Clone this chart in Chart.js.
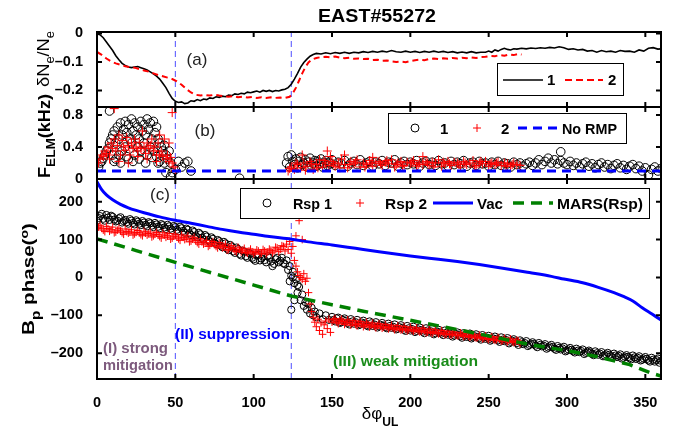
<!DOCTYPE html>
<html>
<head>
<meta charset="utf-8">
<script src="https://cdn.jsdelivr.net/npm/chart.js@4.4.1/dist/chart.umd.min.js"></script>
<style>
  html, body { margin: 0; padding: 0; background: #fff; }
  #wrap { position: relative; width: 675px; height: 429px; overflow: hidden; }
  canvas { position: absolute; left: 0; }
  #overlay { position: absolute; left: 0; top: 0; }
</style>
</head>
<body>
<div id="wrap">
  <canvas id="chartA" width="675" height="95" style="top:22px"></canvas>
  <canvas id="chartB" width="675" height="92" style="top:97px"></canvas>
  <canvas id="chartC" width="675" height="255" style="top:169px"></canvas>
  <svg id="overlay" width="675" height="429" font-family="Liberation Sans, Arial, Helvetica, sans-serif">
    <text x="377" y="22" text-anchor="middle" font-size="18" font-weight="bold" textLength="118" lengthAdjust="spacingAndGlyphs">EAST#55272</text>
    <text x="197" y="65" text-anchor="middle" font-size="17" fill="#222">(a)</text>
    <text x="205" y="136" text-anchor="middle" font-size="17" fill="#222">(b)</text>
    <text x="160" y="200" text-anchor="middle" font-size="17" fill="#222">(c)</text>

    <text transform="translate(49,59) rotate(-90)" text-anchor="middle" font-size="17" textLength="56" lengthAdjust="spacingAndGlyphs">δN<tspan font-size="12" dy="5">e</tspan><tspan dy="-5">/N</tspan><tspan font-size="12" dy="5">e</tspan></text>
    <text transform="translate(50,136) rotate(-90)" text-anchor="middle" font-size="16" font-weight="bold" textLength="84" lengthAdjust="spacingAndGlyphs">F<tspan font-size="12" dy="5">ELM</tspan><tspan dy="-5">(kHz)</tspan></text>
    <text transform="translate(34,279) rotate(-90)" text-anchor="middle" font-size="16" font-weight="bold" textLength="112" lengthAdjust="spacingAndGlyphs">B<tspan font-size="12" dy="6">p</tspan><tspan dy="-6"> phase(</tspan><tspan font-size="11" dy="-6">o</tspan><tspan dy="6">)</tspan></text>
    <text x="380" y="419" text-anchor="middle" font-size="17">δφ<tspan font-size="12" font-weight="bold" dy="7">UL</tspan></text>

    <text x="103" y="353" font-size="15" font-weight="bold" fill="#7d5a7d" textLength="65" lengthAdjust="spacingAndGlyphs">(I) strong</text>
    <text x="103" y="370" font-size="15" font-weight="bold" fill="#7d5a7d" textLength="70" lengthAdjust="spacingAndGlyphs">mitigation</text>
    <text x="175" y="339" font-size="15" font-weight="bold" fill="#0000ff" textLength="115" lengthAdjust="spacingAndGlyphs">(II) suppression</text>
    <text x="333" y="366" font-size="15" font-weight="bold" fill="#1a8c1a" textLength="145" lengthAdjust="spacingAndGlyphs">(III) weak mitigation</text>

    <g font-size="15" font-weight="bold">
      <rect x="497.5" y="63.5" width="126" height="32" fill="#fff" stroke="#000" stroke-width="1"/>
      <line x1="503" y1="80" x2="543" y2="80" stroke="#000" stroke-width="1.5"/>
      <text x="547" y="85">1</text>
      <line x1="565" y1="80" x2="603" y2="80" stroke="#ff0000" stroke-width="2" stroke-dasharray="7,4"/>
      <text x="608" y="85">2</text>

      <rect x="388.5" y="113.5" width="238" height="30" fill="#fff" stroke="#000" stroke-width="1"/>
      <circle cx="415" cy="128" r="4" fill="none" stroke="#000" stroke-width="1"/>
      <text x="440" y="133.5">1</text>
      <path d="M473 128 H481 M477 124 V132" stroke="#ff0000" stroke-width="1"/>
      <text x="501" y="133.5">2</text>
      <line x1="518" y1="128" x2="560" y2="128" stroke="#0000ff" stroke-width="3" stroke-dasharray="9,6"/>
      <text x="562" y="133.5" textLength="55" lengthAdjust="spacingAndGlyphs">No RMP</text>

      <rect x="240.5" y="188.5" width="409" height="30" fill="#fff" stroke="#000" stroke-width="1"/>
      <circle cx="267" cy="203" r="4" fill="none" stroke="#000" stroke-width="1"/>
      <text x="293" y="208.5" textLength="39" lengthAdjust="spacingAndGlyphs">Rsp 1</text>
      <path d="M356 203 H364 M360 199 V207" stroke="#ff0000" stroke-width="1"/>
      <text x="385" y="208.5" textLength="42" lengthAdjust="spacingAndGlyphs">Rsp 2</text>
      <line x1="433" y1="203" x2="473" y2="203" stroke="#0000ff" stroke-width="3"/>
      <text x="477" y="208.5" textLength="26" lengthAdjust="spacingAndGlyphs">Vac</text>
      <line x1="513" y1="203" x2="553" y2="203" stroke="#008000" stroke-width="3.5" stroke-dasharray="11,7"/>
      <text x="557" y="208.5" textLength="86" lengthAdjust="spacingAndGlyphs">MARS(Rsp)</text>
    </g>
  </svg>
</div>
<script>
// shared x axis
const xTicks = [0, 50, 100, 150, 200, 250, 300, 350];
const regionBounds = [50, 124];

// (a) density change
const dneTicks = [-0.2, -0.1, 0];
const dne1 = [[0,-0.002],[2,-0.005],[4,-0.015],[6,-0.03],[8,-0.045],[10,-0.06],[12,-0.078],[14,-0.092],[16,-0.105],[18,-0.112],[20,-0.118],[22,-0.12],[24,-0.118],[26,-0.116],[28,-0.12],[30,-0.124],[32,-0.128],[34,-0.135],[36,-0.142],[38,-0.15],[40,-0.16],[42,-0.175],[44,-0.19],[46,-0.21],[48,-0.228],[50,-0.238],[52,-0.242],[54,-0.24],[56,-0.246],[58,-0.244],[60,-0.236],[62,-0.238],[64,-0.232],[66,-0.236],[68,-0.23],[70,-0.232],[72,-0.226],[74,-0.228],[76,-0.222],[78,-0.224],[80,-0.22],[82,-0.222],[84,-0.216],[86,-0.218],[88,-0.212],[90,-0.214],[92,-0.21],[94,-0.212],[96,-0.206],[98,-0.208],[100,-0.205],[102,-0.202],[104,-0.206],[106,-0.2],[108,-0.203],[110,-0.2],[112,-0.204],[114,-0.2],[116,-0.202],[118,-0.198],[120,-0.196],[122,-0.19],[124,-0.178],[126,-0.16],[128,-0.14],[130,-0.118],[132,-0.102],[134,-0.09],[136,-0.08],[138,-0.074],[140,-0.07],[143,-0.072],[146,-0.068],[149,-0.071],[152,-0.067],[155,-0.07],[158,-0.066],[161,-0.07],[164,-0.066],[167,-0.068],[170,-0.064],[173,-0.067],[176,-0.063],[179,-0.066],[182,-0.062],[185,-0.065],[188,-0.06],[191,-0.064],[194,-0.066],[197,-0.062],[200,-0.066],[203,-0.063],[206,-0.067],[209,-0.063],[212,-0.066],[215,-0.062],[218,-0.066],[221,-0.063],[224,-0.067],[227,-0.064],[230,-0.068],[233,-0.065],[236,-0.068],[239,-0.064],[242,-0.068],[245,-0.066],[248,-0.066],[250,-0.062],[252,-0.066],[254,-0.058],[256,-0.062],[258,-0.056],[260,-0.052],[262,-0.056],[264,-0.058],[266,-0.054],[268,-0.055],[271,-0.052],[274,-0.054],[277,-0.051],[280,-0.053],[283,-0.05],[286,-0.052],[289,-0.049],[292,-0.051],[295,-0.047],[298,-0.05],[301,-0.056],[304,-0.054],[307,-0.058],[310,-0.056],[313,-0.062],[316,-0.06],[319,-0.066],[322,-0.06],[325,-0.064],[328,-0.062],[331,-0.066],[334,-0.06],[337,-0.063],[340,-0.062],[343,-0.066],[346,-0.058],[349,-0.062],[352,-0.052],[355,-0.05],[358,-0.055],[360,-0.054]];
const dne2 = [[0,-0.065],[3,-0.075],[6,-0.088],[9,-0.098],[12,-0.105],[15,-0.11],[18,-0.115],[21,-0.118],[24,-0.12],[27,-0.125],[30,-0.13],[33,-0.134],[36,-0.14],[39,-0.146],[42,-0.15],[45,-0.155],[48,-0.16],[51,-0.168],[54,-0.18],[57,-0.195],[60,-0.207],[63,-0.215],[66,-0.218],[69,-0.216],[72,-0.218],[75,-0.215],[78,-0.218],[81,-0.22],[84,-0.222],[87,-0.22],[90,-0.224],[93,-0.222],[96,-0.225],[99,-0.223],[102,-0.226],[105,-0.224],[108,-0.226],[111,-0.224],[114,-0.226],[117,-0.225],[120,-0.226],[123,-0.222],[125,-0.21],[127,-0.19],[129,-0.165],[131,-0.14],[133,-0.118],[135,-0.102],[137,-0.092],[140,-0.086],[143,-0.083],[146,-0.082],[149,-0.084],[152,-0.081],[155,-0.085],[158,-0.087],[161,-0.085],[164,-0.089],[167,-0.088],[170,-0.09],[173,-0.089],[176,-0.093],[179,-0.092],[182,-0.096],[185,-0.095],[188,-0.098],[191,-0.1],[194,-0.099],[197,-0.101],[200,-0.097],[203,-0.094],[206,-0.092],[209,-0.094],[212,-0.09],[215,-0.088],[218,-0.09],[221,-0.087],[224,-0.089],[227,-0.086],[230,-0.088],[233,-0.085],[236,-0.087],[239,-0.084],[242,-0.086],[245,-0.083],[248,-0.082],[251,-0.079],[254,-0.08],[257,-0.076],[260,-0.078],[263,-0.074],[266,-0.076],[269,-0.072],[271,-0.074]];

// (b) ELM frequency
const felmTicks = [0, 0.2, 0.4, 0.6, 0.8];
const felm1 = [[1,.15],[2,.2],[3,.22],[4,.26],[5,.3],[6,.35],[7,.38],[8,.45],[8,.85],[9,.5],[10,.55],[10,.3],[11,.6],[11,.22],[12,.45],[12,.25],[13,.65],[14,.5],[14,.3],[15,.7],[15,.2],[16,.55],[16,.35],[17,.62],[18,.72],[18,.4],[19,.58],[19,.28],[20,.68],[20,.25],[21,.5],[22,.75],[22,.45],[23,.6],[23,.22],[24,.7],[24,.3],[25,.55],[26,.65],[26,.4],[27,.5],[27,.25],[28,.72],[28,.35],[29,.6],[30,.68],[30,.45],[31,.55],[31,.2],[32,.75],[32,.3],[33,.62],[34,.7],[34,.4],[35,.5],[35,.27],[36,.72],[36,.35],[37,.58],[38,.65],[38,.28],[39,.5],[39,.2],[40,.45],[40,.22],[41,.4],[42,.35],[43,.42],[43,.2],[44,.3],[44,.08],[45,.25],[46,.35],[47,.2],[47,.03],[48,.08],[50,.12],[52,.22],[54,.15],[56,.2],[58,.22],[60,.1],[91,.01],
  [121,.2],[122,.28],[123,.15],[124,.3],[125,.22],[126,.18],[127,.25],[128,.14],[129,.22],[130,.27],[131,.18],[132,.2],[133,.24],[134,.15],[135,.21],[136,.26],[137,.17],[138,.2],[139,.23],[140,.16],[141,.22],[142,.19],[143,.25],[144,.15],[145,.2],[146,.23],[147,.17],[148,.21],[149,.19],[150,.24],[152,.17],[154,.21],[156,.19],[158,.23],[160,.16],[162,.2],[164,.22],[166,.18],[168,.24],[170,.17],[172,.2],[174,.22],[176,.16],[178,.21],[180,.19],[182,.23],[184,.17],[186,.21],[188,.2],[190,.24],[192,.16],[194,.2],[196,.22],[198,.18],[200,.21],[202,.19],[204,.23],[206,.16],[208,.2],[210,.22],[212,.18],[214,.21],[216,.17],[218,.23],[220,.19],[222,.2],[224,.16],[226,.22],[228,.18],[230,.21],[232,.19],[234,.23],[236,.16],[238,.2],[240,.21],[242,.17],[244,.22],[246,.19],[248,.2],[250,.16],[252,.21],[254,.18],[256,.22],[258,.17],[260,.2],[262,.19],[264,.15],[266,.21],[268,.18],[270,.2],[272,.16],[274,.19],[276,.21],[278,.17],[280,.2],[282,.24],[284,.18],[286,.22],[288,.26],[290,.2],[292,.24],[294,.19],[296,.34],[296,.23],[298,.2],[300,.18],[302,.22],[304,.17],[306,.2],[308,.15],[310,.19],[312,.21],[314,.16],[316,.19],[318,.14],[320,.18],[322,.2],[324,.15],[326,.18],[328,.13],[330,.17],[332,.19],[334,.14],[336,.17],[338,.12],[340,.16],[342,.18],[344,.13],[346,.16],[348,.1],[350,.14],[352,.05],[354,.12],[356,.15],[358,.1],[360,.13]];
const felm2 = [[1,.2],[2,.25],[3,.3],[4,.28],[5,.35],[6,.32],[7,.4],[8,.3],[8,.25],[9,.45],[10,.38],[11,.88],[11,.5],[12,.35],[13,.42],[14,.55],[14,.22],[15,.3],[16,.48],[17,.4],[18,.36],[19,.52],[20,.42],[20,.2],[21,.3],[22,.45],[23,.38],[24,.5],[25,.4],[26,.35],[26,.28],[27,.46],[28,.38],[29,.6],[30,.4],[31,.32],[32,.45],[32,.25],[33,.38],[34,.42],[35,.5],[36,.35],[37,.4],[38,.3],[38,.22],[39,.45],[40,.3],[40,.55],[41,.35],[42,.28],[43,.5],[44,.25],[45,.3],[46,.22],[46,.45],[47,.27],[48,.83],[48,.2],[49,.15],[50,.1],
  [122,.1],[124,.15],[126,.12],[128,.18],[130,.14],[131,.3],[132,.2],[134,.16],[136,.22],[138,.12],[140,.18],[142,.24],[144,.15],[146,.2],[147,.35],[148,.17],[149,.28],[150,.22],[152,.16],[154,.2],[156,.25],[158,.3],[158,.18],[160,.14],[162,.22],[164,.19],[166,.24],[168,.15],[170,.2],[172,.18],[174,.23],[176,.27],[176,.16],[178,.2],[180,.22],[182,.17],[184,.21],[186,.19],[188,.24],[190,.15],[192,.2],[194,.22],[196,.17],[198,.21],[200,.19],[202,.23],[204,.16],[206,.2],[208,.28],[208,.18],[210,.22],[212,.17],[214,.21],[216,.2],[218,.24],[220,.16],[222,.19],[224,.22],[226,.17],[228,.21],[230,.2],[232,.15],[234,.22],[236,.18],[238,.2],[240,.23],[242,.17],[244,.2],[246,.19],[248,.22],[250,.16],[252,.2],[254,.18],[256,.21],[258,.17],[260,.2],[262,.19],[264,.16],[266,.2],[268,.18],[270,.17],
  [123,.13],[127,.2],[133,.11],[137,.19],[141,.14],[145,.23],[151,.19],[155,.14],[161,.18],[165,.21],[171,.15],[175,.2],[181,.19],[185,.23],[191,.18],[195,.16],[201,.21],[205,.18],[211,.2],[215,.15],[221,.21],[225,.19],[231,.18],[235,.2],[241,.15],[245,.22],[251,.19],[255,.2],[261,.16],[265,.18]];
const noRmp = [[0,0.1],[360,0.1]];

// (c) Bp phase
const phaseTicks = [-200, -100, 0, 100, 200];
const rsp1 = [[0,150],[2,162],[4,155],[6,165],[8,152],[10,160],[12,148],[14,156],[16,145],[18,152],[20,142],[22,150],[24,140],[26,147],[28,138],[30,145],[32,135],[34,143],[36,133],[38,140],[40,130],[42,138],[44,128],[46,135],[48,125],[50,133],[52,122],[54,130],[56,118],[58,126],[60,112],[62,120],[64,106],[66,114],[68,100],[70,108],[72,95],[74,102],[76,88],[78,96],[80,80],[82,90],[84,72],[86,82],[88,65],[90,75],[92,58],[94,68],[96,52],[98,62],[100,48],[102,58],[104,45],[106,55],[108,40],[110,52],[112,30],[114,48],[116,40],[118,52],[120,35],[121,45],[122,20],[123,30],[123,-10],[124,5],[124,-85],[125,15],[125,0],[126,-15],[126,-60],[127,-5],[128,-40],[128,-20],[129,-25],[130,-60],[131,-45],[132,-75],[133,-65],[134,-85],[135,-70],[136,-95],[137,-80],[138,-100],[139,-90],[140,-105],[142,-95],[144,-110],[146,-100],[148,-112],[150,-104],
  [152,-116],[154,-106],[156,-118],[158,-108],[160,-120],[162,-110],[164,-122],[166,-112],[168,-124],[170,-114],[172,-126],[174,-116],[176,-128],[178,-118],[180,-129],[182,-120],[184,-131],[186,-122],[188,-133],[190,-124],[192,-135],[194,-126],[196,-138],[198,-128],[200,-140],[202,-130],[204,-141],[206,-132],[208,-143],[210,-134],[212,-145],[214,-136],[216,-147],[218,-138],[220,-148],[222,-140],[224,-151],[226,-142],[228,-153],[230,-145],[232,-155],[234,-147],[236,-157],[238,-148],[240,-158],[242,-150],[244,-160],[246,-152],[248,-162],[250,-154],[252,-164],[254,-156],[256,-166],[258,-158],[260,-168],[262,-160],[264,-170],[266,-163],[268,-173],[270,-166],[272,-176],[274,-168],[276,-178],[278,-171],[280,-180],[282,-173],[284,-182],[286,-176],[288,-185],[290,-178],[292,-188],[294,-181],[296,-190],[298,-183],[300,-193],[302,-186],[304,-195],[306,-188],[308,-197],[310,-190],[312,-199],[314,-193],[316,-202],[318,-195],[320,-204],[322,-197],[324,-206],[326,-199],[328,-208],[330,-201],[332,-210],[334,-203],[336,-212],[338,-205],[340,-213],[342,-206],[344,-215],[346,-208],[348,-217],[350,-210],[352,-219],[354,-212],[356,-222],[358,-214],[360,-220],
  [1,157],[3,168],[5,150],[7,158],[9,163],[11,153],[13,150],[15,159],[17,149],[19,146],[21,154],[23,144],[25,151],[27,142],[29,149],[31,139],[33,146],[35,137],[37,144],[39,134],[41,141],[43,132],[45,139],[47,129],[49,136],[51,126],[53,134],[55,123],[57,129],[59,117],[61,124],[63,111],[65,118],[67,105],[69,112],[71,99],[73,106],[75,92],[77,99],[79,84],[81,94],[83,76],[85,86],[87,69],[89,79],[91,62],[93,71],[95,56],[97,65],[99,52],[101,44],[103,60],[105,50],[107,46],[109,56],[111,42],[113,36],[115,52],[117,44],[119,38],
  [151,-112],[153,-108],[155,-120],[157,-112],[159,-114],[161,-124],[163,-116],[165,-118],[167,-126],[169,-119],[171,-121],[173,-129],[175,-121],[177,-124],[179,-132],[181,-125],[183,-127],[185,-134],[187,-128],[189,-130],[191,-137],[193,-131],[195,-133],[197,-141],[199,-134],[201,-136],[203,-144],[205,-137],[207,-139],[209,-147],[211,-140],[213,-142],[215,-150],[217,-143],[219,-145],[221,-152],[223,-146],[225,-148],[227,-156],[229,-149],[231,-151],[233,-159],[235,-152],[237,-154],[239,-161],[241,-155],[243,-157],[245,-164],[247,-158],[249,-159],[251,-167],[253,-161],[255,-162],[257,-170],[259,-164],[261,-165],[263,-174],[265,-167],[267,-169],[269,-178],[271,-171],[273,-173],[275,-181],[277,-175],[279,-176],[281,-184],[283,-178],[285,-180],[287,-188],[289,-182],[291,-184],[293,-191],[295,-186],[297,-187],[299,-195],[301,-190],[303,-191],[305,-198],[307,-193],[309,-194],[311,-202],[313,-196],[315,-198],[317,-205],[319,-200],[321,-201],[323,-208],[325,-203],[327,-204],[329,-211],[331,-206],[333,-207],[335,-214],[337,-209],[339,-210],[341,-216],[343,-211],[345,-212],[347,-219],[349,-214],[351,-215],[353,-222],[355,-217],[357,-218],[359,-225]];
const rsp2 = [[0,128],[2,138],[4,125],[6,135],[8,122],[10,133],[12,120],[14,130],[16,118],[18,128],[20,117],[22,126],[24,115],[26,124],[28,113],[30,122],[32,112],[34,120],[36,110],[38,119],[40,108],[42,118],[44,106],[46,116],[48,104],[50,114],[52,102],[54,112],[56,100],[58,110],[60,96],[62,106],[64,92],[66,102],[68,88],[70,98],[72,85],[74,95],[76,82],[78,92],[80,78],[82,88],[84,74],[86,84],[88,70],[90,80],[92,67],[94,77],[96,64],[98,75],[100,62],[102,73],[104,62],[106,74],[108,62],[110,75],[112,65],[114,80],[116,68],[118,84],[120,70],[121,88],[122,74],[123,95],[124,64],[125,82],[126,45],[127,110],[127,30],[128,15],[129,150],[129,5],[130,0],[131,100],[131,-5],[132,10],[133,-10],[134,-2],[135,-40],[136,-70],[137,-90],[138,-105],[139,-118],[140,-130],[141,-110],[142,-140],[143,-120],[144,-150],[145,-125],[146,-115],[147,-135],[148,-110],[149,-145],[150,-118],
  [152,-108],[154,-122],[156,-110],[158,-124],[160,-112],[162,-126],[164,-114],[166,-128],[168,-116],[170,-130],[172,-118],[174,-131],[176,-120],[178,-133],[180,-122],[182,-134],[184,-124],[186,-136],[188,-126],[190,-138],[192,-127],[194,-139],[196,-129],[198,-141],[200,-131],[202,-142],[204,-133],[206,-144],[208,-134],[210,-146],[212,-136],[214,-148],[216,-138],[218,-149],[220,-140],[222,-151],[224,-142],[226,-152],[228,-144],[230,-154],[232,-146],[234,-156],[236,-148],[238,-158],[240,-150],[242,-160],[244,-152],[246,-162],[248,-154],[250,-164],[252,-156],[254,-166],[256,-158],[258,-168],[260,-160],[262,-170],[264,-162],[266,-172],[268,-165],[270,-175],
  [1,133],[3,130],[5,121],[7,129],[9,126],[11,118],[13,125],[15,123],[17,114],[19,121],[21,120],[23,112],[25,119],[27,118],[29,110],[31,117],[33,116],[35,107],[37,114],[39,113],[41,104],[43,112],[45,110],[47,101],[49,109],[51,107],[53,98],[55,106],[57,104],[59,94],[61,101],[63,98],[65,88],[67,94],[69,92],[71,82],[73,90],[75,88],[77,78],[79,85],[81,82],[83,72],[85,79],[87,76],[89,68],[91,74],[93,72],[95,66],[97,70],[99,68],[101,66],[103,70],[105,64],[107,70],[109,67],[111,72],[113,70],[115,78],[117,74],[119,82],
  [151,-112],[153,-118],[155,-114],[157,-116],[159,-120],[161,-118],[163,-120],[165,-124],[167,-121],[169,-123],[171,-126],[173,-124],[175,-126],[177,-129],[179,-127],[181,-129],[183,-131],[185,-130],[187,-132],[189,-134],[191,-133],[193,-135],[195,-137],[197,-136],[199,-138],[201,-139],[203,-138],[205,-141],[207,-142],[209,-140],[211,-144],[213,-145],[215,-143],[217,-146],[219,-147],[221,-146],[223,-149],[225,-150],[227,-149],[229,-152],[231,-153],[233,-151],[235,-154],[237,-155],[239,-154],[241,-157],[243,-158],[245,-157],[247,-160],[249,-161],[251,-160],[253,-163],[255,-164],[257,-163],[259,-166],[261,-167],[263,-166],[265,-169],[267,-170],[269,-168]];
const vac = [[0,253],[3,232],[6,218],[10,205],[15,193],[20,184],[25,177],[30,171],[40,160],[50,151],[60,143],[70,135],[80,127],[90,120],[100,114],[110,108],[124,101],[135,94],[150,86],[165,77],[180,68],[200,57],[212,51],[230,42],[244,34],[260,24],[276,13],[290,3],[298,-4],[310,-14],[320,-26],[330,-40],[336,-50],[342,-62],[348,-80],[354,-96],[360,-112]];
const mars = [[0,102],[25,71],[50,40],[75,10],[100,-20],[124,-49],[150,-72],[170,-89],[200,-113],[233,-140],[260,-163],[276,-177],[300,-193],[318,-208],[340,-230],[354,-253],[360,-260]];

Chart.defaults.font.family = 'Liberation Sans, Arial, Helvetica, sans-serif';
Chart.defaults.color = '#000';

function pts(arr) { return arr.map(p => ({x: p[0], y: p[1]})); }

function fmt(v) {
  if (v === 0) return '0';
  return String(v).replace('-', '\u2013');
}

function vlines(lo, hi) {
  return regionBounds.map(b => ({
    data: [{x: b, y: lo}, {x: b, y: hi}],
    showLine: true, borderColor: '#4d4dff', borderWidth: 1, borderDash: [6, 4],
    pointRadius: 0, order: 10
  }));
}

// matlab-like box with inward ticks on all four sides
const boxPlugin = {
  id: 'matlabBox',
  afterDatasetsDraw(chart) {
    const {ctx, chartArea: a, scales: {x, y}} = chart;
    ctx.save();
    ctx.strokeStyle = '#000';
    ctx.lineWidth = 2;
    ctx.beginPath();
    x.ticks.forEach(t => {
      const px = x.getPixelForValue(t.value);
      ctx.moveTo(px, a.bottom); ctx.lineTo(px, a.bottom - 5);
      ctx.moveTo(px, a.top); ctx.lineTo(px, a.top + 5);
    });
    y.ticks.forEach(t => {
      const py = y.getPixelForValue(t.value);
      ctx.moveTo(a.left, py); ctx.lineTo(a.left + 5, py);
      ctx.moveTo(a.right, py); ctx.lineTo(a.right - 5, py);
    });
    ctx.stroke();
    ctx.strokeRect(a.left, a.top, a.right - a.left, a.bottom - a.top);
    ctx.restore();
  }
};

function panel(id, datasets, yMin, yMax, yTicks, showX, xHeight) {
  return new Chart(document.getElementById(id).getContext('2d'), {
    type: 'scatter',
    data: { datasets: datasets },
    options: {
      responsive: false,
      animation: false,
      devicePixelRatio: 1,
      layout: { padding: { top: 10, right: 14, left: 0, bottom: 0 } },
      plugins: { legend: { display: false }, tooltip: { enabled: false } },
      scales: {
        x: {
          type: 'linear', min: 0, max: 360,
          grid: { display: false }, border: { display: false },
          ticks: { display: showX, font: { size: 14.5, weight: 'bold' }, padding: 7, maxRotation: 0 },
          afterBuildTicks: s => { s.ticks = xTicks.map(v => ({value: v})); },
          afterFit: s => { s.height = xHeight; s.paddingLeft = 0; s.paddingRight = 0; }
        },
        y: {
          type: 'linear', min: yMin, max: yMax,
          grid: { display: false }, border: { display: false },
          ticks: { font: { size: 14.5, weight: 'bold' }, padding: 6, callback: v => fmt(v) },
          afterBuildTicks: s => { s.ticks = yTicks.map(v => ({value: v})); },
          afterFit: s => { s.width = 97; s.paddingTop = 0; s.paddingBottom = 0; }
        }
      }
    },
    plugins: [boxPlugin]
  });
}

panel('chartA', [
  { data: pts(dne1), showLine: true, borderColor: '#000', borderWidth: 1.6, pointRadius: 0, order: 2 },
  { data: pts(dne2), showLine: true, borderColor: '#ff0000', borderWidth: 2, borderDash: [6, 4], pointRadius: 0, order: 1 }
].concat(vlines(-0.258, 0.005)), -0.258, 0.005, dneTicks, false, 10);

panel('chartB', [
  { data: pts(felm1), pointStyle: 'circle', pointRadius: 4.3, backgroundColor: 'rgba(0,0,0,0)', borderColor: '#000', borderWidth: 1, order: 3 },
  { data: pts(felm2), pointStyle: 'cross', pointRadius: 4.5, borderColor: '#ff0000', borderWidth: 1, order: 2 },
  { data: pts(noRmp), showLine: true, borderColor: '#0000ff', borderWidth: 3, borderDash: [9, 6], pointRadius: 0, order: 1 }
].concat(vlines(0, 0.9)), 0, 0.9, felmTicks, false, 10);

panel('chartC', [
  { data: pts(rsp1), pointStyle: 'circle', pointRadius: 3.6, backgroundColor: 'rgba(0,0,0,0)', borderColor: '#000', borderWidth: 1, order: 4 },
  { data: pts(rsp2), pointStyle: 'cross', pointRadius: 3.8, borderColor: '#ff0000', borderWidth: 1, order: 3 },
  { data: pts(vac), showLine: true, borderColor: '#0000ff', borderWidth: 3, pointRadius: 0, cubicInterpolationMode: 'monotone', order: 2 },
  { data: pts(mars), showLine: true, borderColor: '#008000', borderWidth: 3.5, borderDash: [11, 7], pointRadius: 0, order: 1 }
].concat(vlines(-268, 260)), -268, 260, phaseTicks, true, 45);
</script>
</body>
</html>
